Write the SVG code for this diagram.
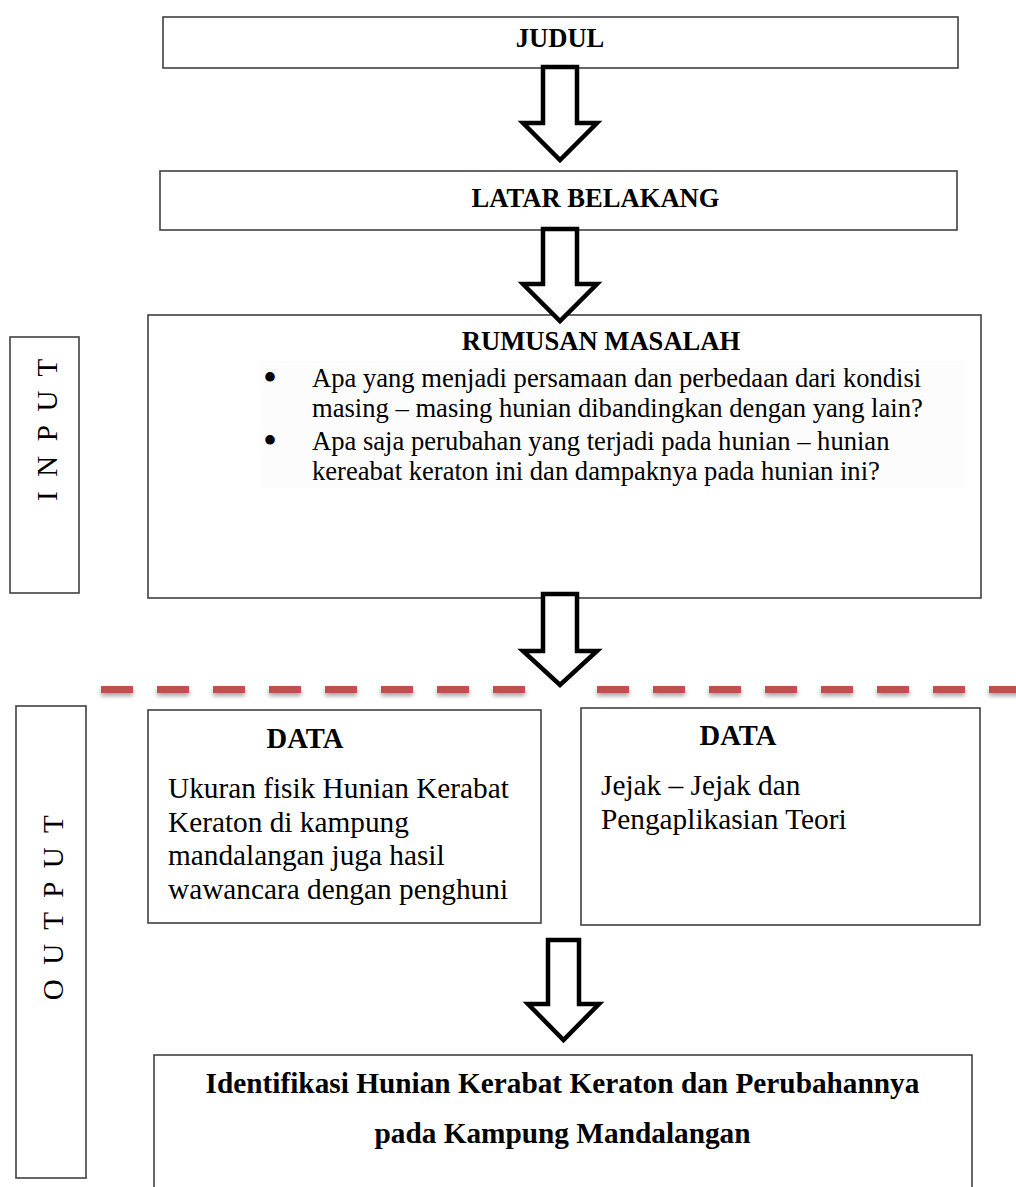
<svg xmlns="http://www.w3.org/2000/svg" width="1016" height="1187" viewBox="0 0 1016 1187">
<defs>
<style>
.box{fill:#ffffff;stroke:#404040;stroke-width:1.6}
.arrow{fill:#ffffff;stroke:#000000;stroke-width:4.5;stroke-linejoin:miter;stroke-miterlimit:10}
.h{font-family:"Liberation Serif","Times New Roman",serif;font-weight:bold;fill:#000}
.t{font-family:"Liberation Serif","Times New Roman",serif;fill:#000}
.bullet{font-family:"Liberation Serif","Times New Roman",serif;font-size:40px;fill:#000}
.side{font-family:"Liberation Serif","Times New Roman",serif;font-size:29px;letter-spacing:3.7px;fill:#000}
.dash{stroke:#C0504D;stroke-width:7;stroke-dasharray:32 24;fill:none}
</style>
<filter id="shadow" filterUnits="userSpaceOnUse" x="0" y="670" width="1016" height="45">
<feDropShadow dx="0" dy="3" stdDeviation="2" flood-color="#000" flood-opacity="0.35"/>
</filter>
</defs>
<rect width="1016" height="1187" fill="#ffffff"/>

<g id="judul">
<rect class="box" x="163" y="17" width="795" height="51"/>
<text class="h" x="560" y="47" font-size="26.6" text-anchor="middle">JUDUL</text>
</g>

<g id="latar-belakang">
<rect class="box" x="160" y="171" width="797" height="59"/>
<text class="h" x="595.5" y="207" font-size="26.6" text-anchor="middle">LATAR BELAKANG</text>
</g>

<g id="rumusan-masalah">
<rect class="box" x="148" y="315" width="833" height="283"/>
<rect x="260" y="361" width="705" height="127" fill="#fcfcfc"/>
<text class="h" x="601" y="350" font-size="26.6" text-anchor="middle">RUMUSAN MASALAH</text>
<text class="bullet" x="270" y="391" text-anchor="middle">•</text>
<text class="t" x="312" y="387" font-size="26.6">Apa yang menjadi persamaan dan perbedaan dari kondisi</text>
<text class="t" x="312" y="417" font-size="26.6">masing – masing hunian dibandingkan dengan yang lain?</text>
<text class="bullet" x="270" y="454" text-anchor="middle">•</text>
<text class="t" x="312" y="450" font-size="26.6">Apa saja perubahan yang terjadi pada hunian – hunian</text>
<text class="t" x="312" y="480" font-size="26.6">kereabat keraton ini dan dampaknya pada hunian ini?</text>
</g>

<g id="input-label">
<rect class="box" x="10" y="337" width="69" height="256"/>
<text class="side" transform="translate(57,428) rotate(-90)" text-anchor="middle">I N P U T</text>
</g>

<g id="output-label">
<rect class="box" x="16" y="706" width="70" height="472"/>
<text class="side" transform="translate(63,906) rotate(-90)" text-anchor="middle">O U T P U T</text>
</g>

<g id="data-kiri">
<rect class="box" x="148" y="710" width="393" height="213"/>
<text class="h" x="305" y="748" font-size="28.6" text-anchor="middle">DATA</text>
<text class="t" x="168" y="798" font-size="29.3">Ukuran fisik Hunian Kerabat</text>
<text class="t" x="168" y="832" font-size="29.3">Keraton di kampung</text>
<text class="t" x="168" y="865" font-size="29.3">mandalangan juga hasil</text>
<text class="t" x="168" y="899" font-size="29.3">wawancara dengan penghuni</text>
</g>

<g id="data-kanan">
<rect class="box" x="581" y="708" width="399" height="217"/>
<text class="h" x="738" y="745" font-size="28.6" text-anchor="middle">DATA</text>
<text class="t" x="601" y="795" font-size="29.3">Jejak – Jejak dan</text>
<text class="t" x="601" y="829" font-size="29.3">Pengaplikasian Teori</text>
</g>

<g id="identifikasi">
<rect class="box" x="154" y="1055" width="818" height="160"/>
<text class="h" x="562.5" y="1093" font-size="29.3" text-anchor="middle">Identifikasi Hunian Kerabat Keraton dan Perubahannya</text>
<text class="h" x="562.5" y="1143" font-size="29.3" text-anchor="middle">pada Kampung Mandalangan</text>
</g>

<g id="connectors">
<path class="arrow" d="M543,67 V123 H523 L560,160 L597,123 H577 V67 Z"/>
<path class="arrow" d="M543,229 V284 H523 L560,321 L597,284 H577 V229 Z"/>
<path class="arrow" d="M543,594 V651 H523 L560,685 L597,651 H577 V594 Z"/>
<path class="arrow" d="M548,940 V1004 H528 L563.5,1040 L599,1004 H579 V940 Z"/>
<g filter="url(#shadow)">
<path class="dash" d="M101,689.5 H525"/>
<path class="dash" d="M597,689.5 H1030"/>
</g>
</g>
</svg>
